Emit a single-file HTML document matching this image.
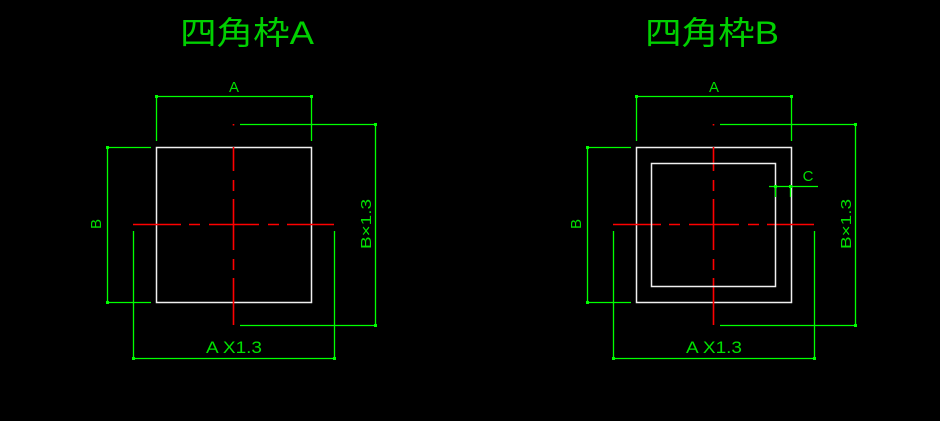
<!DOCTYPE html>
<html><head><meta charset="utf-8"><style>
html,body{margin:0;padding:0;background:#000;}
svg{display:block;}
text{font-family:"Liberation Sans","Noto Sans CJK JP",sans-serif;fill:#00e000;}
</style></head><body>
<svg width="940" height="421" viewBox="0 0 940 421" xmlns="http://www.w3.org/2000/svg">
<defs>
<g id="fig">
  <g stroke="#00ff00" stroke-width="1.3" fill="none">
    <line x1="156" y1="96.5" x2="312" y2="96.5"/>
    <line x1="156.5" y1="96" x2="156.5" y2="141"/>
    <line x1="311.5" y1="96" x2="311.5" y2="141"/>
    <line x1="240" y1="124.5" x2="375" y2="124.5"/>
    <line x1="240" y1="325.5" x2="375" y2="325.5"/>
    <line x1="375.5" y1="124" x2="375.5" y2="326"/>
    <line x1="107" y1="147.5" x2="151" y2="147.5"/>
    <line x1="107" y1="302.5" x2="151" y2="302.5"/>
    <line x1="107.5" y1="147" x2="107.5" y2="303"/>
    <line x1="133.5" y1="231" x2="133.5" y2="358"/>
    <line x1="334.5" y1="231" x2="334.5" y2="358"/>
    <line x1="133" y1="358.5" x2="335" y2="358.5"/>
  </g>
  <g fill="#00ff00">
    <rect x="155" y="95" width="3" height="3"/><rect x="310" y="95" width="3" height="3"/>
    <rect x="374" y="123" width="3" height="3"/><rect x="374" y="324" width="3" height="3"/>
    <rect x="106" y="146" width="3" height="3"/><rect x="106" y="301" width="3" height="3"/>
    <rect x="132" y="357" width="3" height="3"/><rect x="333" y="357" width="3" height="3"/>
  </g>
  <rect x="156.5" y="147.5" width="155" height="155" fill="none" stroke="#f0f0f0" stroke-width="1.5"/>
  <g stroke="#ff0000" stroke-width="1.6">
    <path d="M133 224.5H181M189 224.5H200M209 224.5H259M268 224.5H279M287 224.5H334"/>
    <path d="M233.5 124V125.5M233.5 147V171M233.5 180V191M233.5 199V250M233.5 259V270M233.5 278V325"/>
  </g>
  <text x="234" y="92" font-size="15" text-anchor="middle">A</text>
  <text x="234" y="353" font-size="17" text-anchor="middle" textLength="56" lengthAdjust="spacingAndGlyphs">A X1.3</text>
  <text transform="translate(101,224) rotate(-90)" font-size="15" text-anchor="middle">B</text>
  <text transform="translate(371,224) rotate(-90)" font-size="15" text-anchor="middle" textLength="50" lengthAdjust="spacingAndGlyphs">B×1.3</text>
</g>
</defs>
<use href="#fig"/>
<use href="#fig" transform="translate(480,0)"/>
<text x="180" y="44" font-size="32" textLength="134" lengthAdjust="spacingAndGlyphs" style="fill:#00d000">四角枠A</text>
<text x="645" y="44" font-size="32" textLength="134" lengthAdjust="spacingAndGlyphs" style="fill:#00d000">四角枠B</text>
<rect x="651.5" y="163.5" width="124" height="123" fill="none" stroke="#f0f0f0" stroke-width="1.5"/>
<g stroke="#00ff00" stroke-width="1.3">
  <line x1="769" y1="186.5" x2="818" y2="186.5"/>
  <line x1="775.5" y1="187" x2="775.5" y2="197" stroke-dasharray="10 3 1 10"/>
  <line x1="790.5" y1="187" x2="790.5" y2="197" stroke-dasharray="10 3 1 10"/>
</g>
<rect x="774" y="185" width="3" height="3" fill="#00ff00"/>
<rect x="789" y="185" width="3" height="3" fill="#00ff00"/>
<text x="808" y="181" font-size="15" text-anchor="middle">C</text>
</svg>
</body></html>
